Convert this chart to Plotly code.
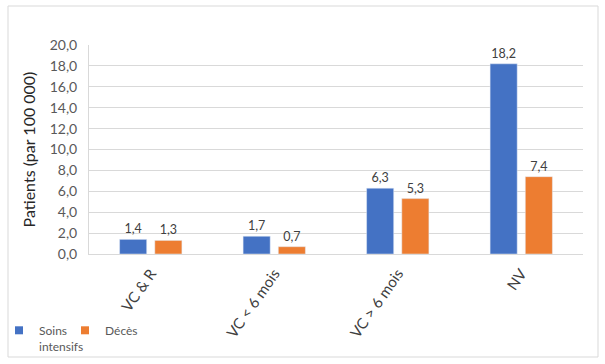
import plotly.graph_objects as go

categories = ["VC & R", "VC < 6 mois", "VC > 6 mois", "NV"]
soins_intensifs = [1.4, 1.7, 6.3, 18.2]
deces = [1.3, 0.7, 5.3, 7.4]
y_ticks = [0, 2, 4, 6, 8, 10, 12, 14, 16, 18, 20]
series_names = ["Soins<br>intensifs", "Décès"]
series_colors = ["#4472C4", "#ED7D31"]

FONT = "Lato, 'Noto Sans', sans-serif"

W, H = 605, 364
L, R, T, B = 89, 22, 45, 110
pw, ph = W - L - R, H - T - B


def px(x):
    return (x - L) / pw


def py(y):
    return (H - B - y) / ph


fig = go.Figure()
for vals, name, color, lg in zip([soins_intensifs, deces], series_names, series_colors, ["legend", "legend2"]):
    fig.add_trace(go.Bar(
        x=categories, y=vals, name=name, showlegend=False,
        marker_color=color, texttemplate="%{y:.1f}", textposition="outside",
        textfont=dict(size=12.5, color="#404040", family=FONT), cliponaxis=False,
    ))
    # legend-only entry with a small square symbol
    fig.add_trace(go.Scatter(
        x=[None], y=[None], mode="markers", name=name, legend=lg,
        marker=dict(symbol="square", size=8, color=color), showlegend=True,
    ))

legend_common = dict(
    orientation="v", xanchor="left", yanchor="top",
    font=dict(size=12, color="#595959", family=FONT), valign="top",
    bgcolor="rgba(0,0,0,0)", borderwidth=0,
)

fig.update_layout(
    width=W, height=H,
    margin=dict(l=L, r=R, t=T, b=B, autoexpand=False),
    paper_bgcolor="white", plot_bgcolor="white",
    separators=", ",
    barmode="group", bargap=0.43, bargroupgap=0.23,
    font=dict(family=FONT, color="#595959"),
    showlegend=True,
    legend=dict(x=px(-1), y=py(316), **legend_common),
    legend2=dict(x=px(65), y=py(316), **legend_common),
    shapes=[dict(
        type="rect", xref="paper", yref="paper",
        x0=px(8), x1=px(598), y0=py(357), y1=py(6),
        line=dict(color="#d9d9d9", width=1), fillcolor="rgba(0,0,0,0)", layer="below",
    )],
)
fig.update_yaxes(
    range=[0, 20], tickvals=y_ticks, tickformat=".1f", automargin=False,
    showgrid=True, gridcolor="#d9d9d9", gridwidth=1,
    showline=True, linecolor="#d9d9d9", linewidth=1,
    zeroline=False, ticks="", ticklabelstandoff=8,
    tickfont=dict(size=14, color="#595959", family=FONT),
    title=dict(text="Patients (par 100 000)", font=dict(size=16, color="#262626", family=FONT), standoff=10),
)
fig.update_xaxes(
    tickangle=-55, showline=True, linecolor="#d9d9d9", linewidth=1, automargin=False,
    ticks="", ticklabelstandoff=4, tickfont=dict(size=15, color="#404040", family=FONT),
)

fig.write_html("out.html", post_script="document.body.style.margin='0';",
               config={"displayModeBar": False})
